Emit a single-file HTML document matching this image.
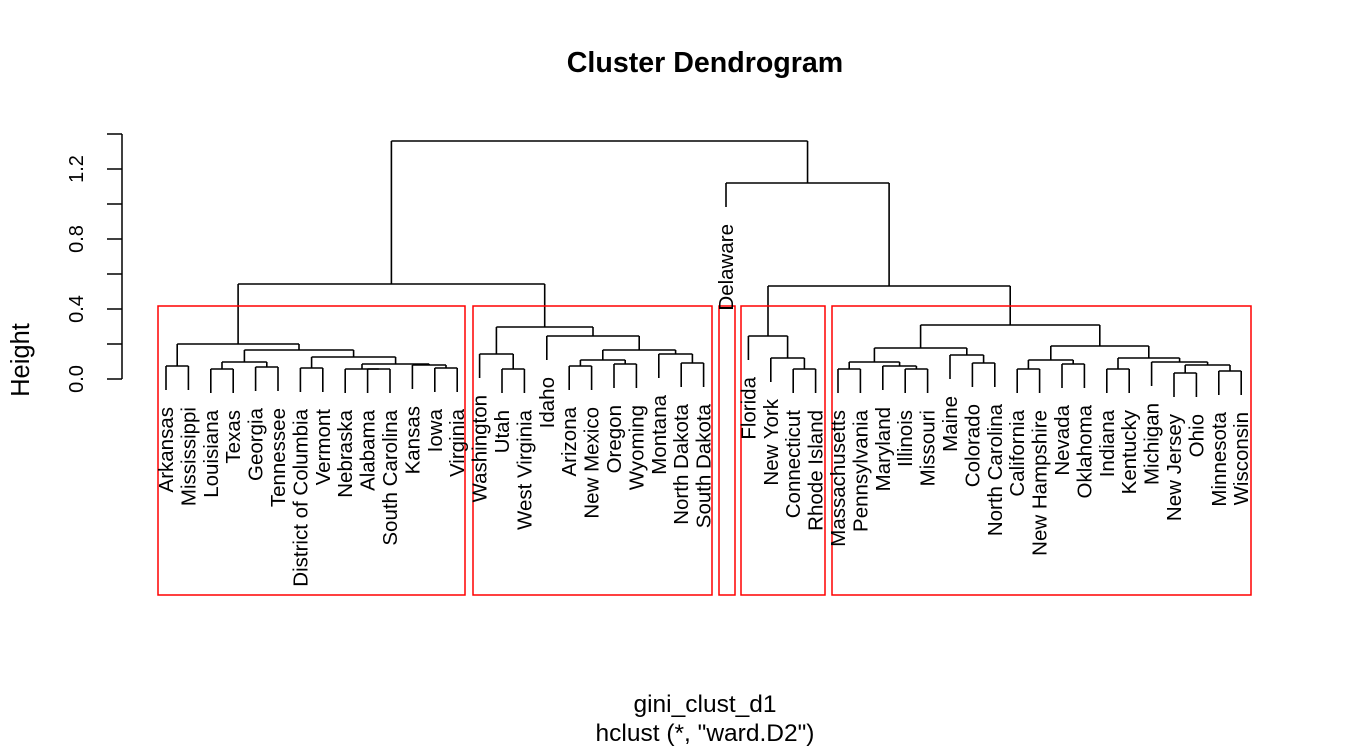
<!DOCTYPE html>
<html><head><meta charset="utf-8"><style>
html,body{margin:0;padding:0;background:#fff;}
svg{display:block;font-family:"Liberation Sans",Arial,sans-serif;}
</style></head><body>
<svg id="s" width="1350" height="750" viewBox="0 0 1350 750" xmlns="http://www.w3.org/2000/svg">
<rect width="1350" height="750" fill="#fff"/>
<text x="705" y="72" text-anchor="middle" font-size="28.6" font-weight="bold">Cluster Dendrogram</text>
<g stroke="#000" stroke-width="1.5" fill="none">
<line x1="122" y1="134" x2="122" y2="379"/>
<line x1="107" y1="379" x2="122" y2="379"/>
<line x1="107" y1="344" x2="122" y2="344"/>
<line x1="107" y1="309" x2="122" y2="309"/>
<line x1="107" y1="274" x2="122" y2="274"/>
<line x1="107" y1="239" x2="122" y2="239"/>
<line x1="107" y1="204" x2="122" y2="204"/>
<line x1="107" y1="169" x2="122" y2="169"/>
<line x1="107" y1="134" x2="122" y2="134"/>
</g>
<g font-size="20" text-anchor="middle">
<text transform="translate(83,379) rotate(-90)">0.0</text>
<text transform="translate(83,309) rotate(-90)">0.4</text>
<text transform="translate(83,239) rotate(-90)">0.8</text>
<text transform="translate(83,169) rotate(-90)">1.2</text>
<text transform="translate(29,360) rotate(-90)" font-size="25.5">Height</text>
</g>
<g id="tree" stroke="#000" stroke-width="1.6" fill="none"></g>
<g stroke="#f00" stroke-width="1.5" fill="none">
<rect x="158" y="306" width="307" height="289"/>
<rect x="473" y="306" width="239" height="289"/>
<rect x="719" y="306" width="16" height="289"/>
<rect x="741" y="306" width="84" height="289"/>
<rect x="832" y="306" width="419" height="289"/>
</g>
<g font-size="20.5" text-anchor="end">
<text transform="translate(173,407) rotate(-90)">Arkansas</text>
<text transform="translate(195.4,407) rotate(-90)">Mississippi</text>
<text transform="translate(217.8,410) rotate(-90)">Louisiana</text>
<text transform="translate(240.2,410) rotate(-90)">Texas</text>
<text transform="translate(262.6,408) rotate(-90)">Georgia</text>
<text transform="translate(285,408) rotate(-90)">Tennessee</text>
<text transform="translate(307.4,409) rotate(-90)">District of Columbia</text>
<text transform="translate(329.8,409) rotate(-90)">Vermont</text>
<text transform="translate(352.2,410) rotate(-90)">Nebraska</text>
<text transform="translate(374.6,410) rotate(-90)">Alabama</text>
<text transform="translate(397,410) rotate(-90)">South Carolina</text>
<text transform="translate(419.4,406) rotate(-90)">Kansas</text>
<text transform="translate(441.8,409) rotate(-90)">Iowa</text>
<text transform="translate(464.2,409) rotate(-90)">Virginia</text>
<text transform="translate(486.6,395) rotate(-90)">Washington</text>
<text transform="translate(509,410) rotate(-90)">Utah</text>
<text transform="translate(531.4,410) rotate(-90)">West Virginia</text>
<text transform="translate(553.8,377) rotate(-90)">Idaho</text>
<text transform="translate(576.2,407) rotate(-90)">Arizona</text>
<text transform="translate(598.6,407) rotate(-90)">New Mexico</text>
<text transform="translate(621,405) rotate(-90)">Oregon</text>
<text transform="translate(643.4,405) rotate(-90)">Wyoming</text>
<text transform="translate(665.8,395) rotate(-90)">Montana</text>
<text transform="translate(688.2,404) rotate(-90)">North Dakota</text>
<text transform="translate(710.6,404) rotate(-90)">South Dakota</text>
<text transform="translate(733,224) rotate(-90)">Delaware</text>
<text transform="translate(755.4,377) rotate(-90)">Florida</text>
<text transform="translate(777.8,399) rotate(-90)">New York</text>
<text transform="translate(800.2,410) rotate(-90)">Connecticut</text>
<text transform="translate(822.6,410) rotate(-90)">Rhode Island</text>
<text transform="translate(845,410) rotate(-90)">Massachusetts</text>
<text transform="translate(867.4,410) rotate(-90)">Pennsylvania</text>
<text transform="translate(889.8,407) rotate(-90)">Maryland</text>
<text transform="translate(912.2,410) rotate(-90)">Illinois</text>
<text transform="translate(934.6,410) rotate(-90)">Missouri</text>
<text transform="translate(957,396) rotate(-90)">Maine</text>
<text transform="translate(979.4,404) rotate(-90)">Colorado</text>
<text transform="translate(1001.8,404) rotate(-90)">North Carolina</text>
<text transform="translate(1024.2,410) rotate(-90)">California</text>
<text transform="translate(1046.6,410) rotate(-90)">New Hampshire</text>
<text transform="translate(1069,405) rotate(-90)">Nevada</text>
<text transform="translate(1091.4,405) rotate(-90)">Oklahoma</text>
<text transform="translate(1113.8,410) rotate(-90)">Indiana</text>
<text transform="translate(1136.2,410) rotate(-90)">Kentucky</text>
<text transform="translate(1158.6,403) rotate(-90)">Michigan</text>
<text transform="translate(1181,414) rotate(-90)">New Jersey</text>
<text transform="translate(1203.4,414) rotate(-90)">Ohio</text>
<text transform="translate(1225.8,412) rotate(-90)">Minnesota</text>
<text transform="translate(1248.2,412) rotate(-90)">Wisconsin</text>
</g>
<text x="705" y="712" text-anchor="middle" font-size="24.5">gini_clust_d1</text>
<text x="705" y="741" text-anchor="middle" font-size="24.5">hclust (*, "ward.D2")</text>
</svg>
<script>
(function(){
var H=24;
function X(i){return 166+22.4*i;}
var A=[0,1,366],B=[2,3,369],C=[4,5,367],D=[B,C,362],E=[6,7,368],G=[9,10,369],Hn=[8,G,369],J=[12,13,368],I=[11,J,365],K=[Hn,I,364],L=[E,K,357],M=[D,L,350],N=[A,M,344];
var P=[15,16,369],Q=[14,P,354],R1=[18,19,366],S=[20,21,364],T=[R1,S,360],U=[23,24,363],V=[22,U,354],W=[T,V,350],Xn=[17,W,336],Y=[Q,Xn,327],LR=[N,Y,284];
var F1=[28,29,369],F2=[27,F1,358],F3=[26,F2,336];
var a=[30,31,369],b=[33,34,369],c=[32,b,366],d=[a,c,362],e=[36,37,363],f=[35,e,355],g=[d,f,348],h=[38,39,369],i=[40,41,364],j=[h,i,360],k=[42,43,369],l=[45,46,373],m=[47,48,371],n=[l,m,365],o=[44,n,362],p=[k,o,358],q=[j,p,346],r=[g,q,325],s=[F3,r,286],t=[25,s,183],root=[LR,t,141];
var out="";
function seg(x1,y1,x2,y2){out+='<line x1="'+x1+'" y1="'+y1+'" x2="'+x2+'" y2="'+y2+'"/>';}
function draw(nd){
  if(typeof nd==="number")return {x:X(nd),leaf:true};
  var L1=draw(nd[0]),R=draw(nd[1]),y=nd[2];
  var ly=L1.leaf?y+H:L1.y, ry=R.leaf?y+H:R.y;
  seg(L1.x,ly,L1.x,y);seg(R.x,ry,R.x,y);seg(L1.x,y,R.x,y);
  return {x:(L1.x+R.x)/2,y:y,leaf:false};
}
draw(root);
document.getElementById("tree").innerHTML=out;
})();
</script>
</body></html>
